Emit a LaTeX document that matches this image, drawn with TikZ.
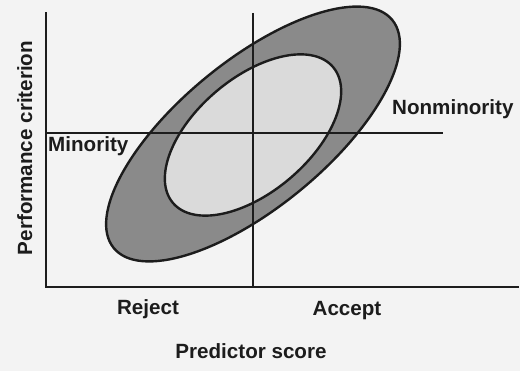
\documentclass[tikz,border=0pt]{standalone}
\usepackage{fontspec}
\setmainfont{Liberation Sans}
\definecolor{bgc}{RGB}{243,243,243}
\definecolor{darkfill}{RGB}{138,138,138}
\definecolor{lightfill}{RGB}{218,218,218}
\definecolor{inkc}{RGB}{28,28,28}
\tikzset{
  axisline/.style={draw=inkc, line width=2pt},
  cutline/.style={draw=inkc, line width=1.8pt},
  outerblob/.style={fill=darkfill, draw=inkc, line width=2.4pt},
  innerblob/.style={fill=lightfill, draw=inkc, line width=2.4pt},
  lbl/.style={font=\fontsize{20.6}{24}\selectfont\bfseries, text=inkc, inner sep=0pt}
}
\begin{document}
\begin{tikzpicture}[x=1pt,y=-1pt]
\useasboundingbox (0,0) rectangle (520,371);
\fill[bgc] (0,0) rectangle (520,371);
% blobs
\draw[outerblob, rotate around={39.3:(253,134)}] (253,134) ellipse [x radius=180pt, y radius=73.5pt];
\draw[innerblob, rotate around={40.3:(253,135)}] (253,135) ellipse [x radius=105pt, y radius=57pt];
% coordinates
\coordinate (ytop) at (46,13);
\coordinate (orig) at (46,287);
\coordinate (xend) at (518,287);
\coordinate (vtop) at (253,13);
\coordinate (vbot) at (253,287);
\coordinate (hleft) at (46,133);
\coordinate (hright) at (443,133);
% lines
\draw[axisline, line cap=rect] (ytop) -- (orig) -- (xend);
\draw[cutline] (vtop) -- (vbot);
\draw[cutline] (hleft) -- (hright);
% labels
\node[lbl, anchor=base, rotate=90] (perf) at (32,148) {Performance criterion};
\node[lbl, anchor=base] (rej) at (148,315) {Reject};
\node[lbl, anchor=base] (acc) at (347,316) {Accept};
\node[lbl, anchor=base] (pred) at (251,359) {Predictor score};
\node[lbl, anchor=base west] (mino) at (48,152) {Minority};
\node[lbl, anchor=base west] (nonm) at (392,115) {Nonminority};
\end{tikzpicture}
\end{document}
